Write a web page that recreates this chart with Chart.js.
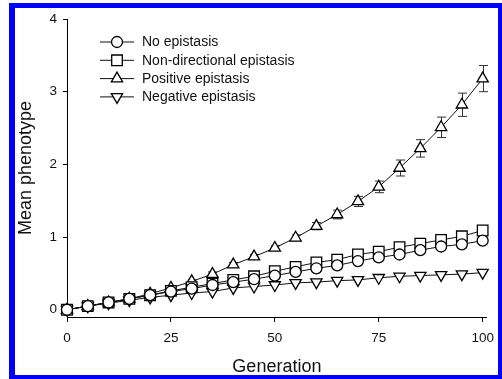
<!DOCTYPE html>
<html>
<head>
<meta charset="utf-8">
<script src="https://cdn.jsdelivr.net/npm/chart.js@4.4.1/dist/chart.umd.min.js"></script>
<style>
  html, body { margin: 0; padding: 0; background: #fff; }
  #wrap { position: relative; width: 502px; height: 379px; }
  #frame {
    position: absolute; left: 9px; top: 3px; width: 493px; height: 376px;
    box-sizing: border-box; border-style: solid; border-color: #0000ff;
    border-width: 5px 4px 4px 6px; pointer-events: none;
  }
</style>
</head>
<body>
<div id="wrap">
  <canvas id="chart" width="502" height="379"></canvas>
  <div id="frame"></div>
</div>
<script>
// Data
const generations = [0, 5, 10, 15, 20, 25, 30, 35, 40, 45, 50, 55, 60, 65, 70, 75, 80, 85, 90, 95, 100];
const noEpistasis = [0, 0.05, 0.10, 0.15, 0.20, 0.25, 0.29, 0.34, 0.38, 0.42, 0.47, 0.52, 0.57, 0.61, 0.67, 0.72, 0.76, 0.82, 0.87, 0.90, 0.95];
const nonDirectional = [0, 0.05, 0.10, 0.15, 0.20, 0.26, 0.31, 0.36, 0.41, 0.46, 0.53, 0.59, 0.65, 0.69, 0.76, 0.80, 0.86, 0.91, 0.96, 1.01, 1.09];
const positiveEpistasis = [0, 0.05, 0.10, 0.15, 0.22, 0.30, 0.39, 0.49, 0.62, 0.73, 0.85, 0.99, 1.15, 1.31, 1.49, 1.69, 1.95, 2.22, 2.51, 2.82, 3.18];
const positiveErr = [0, 0.01, 0.01, 0.01, 0.02, 0.02, 0.02, 0.03, 0.03, 0.03, 0.03, 0.04, 0.05, 0.06, 0.07, 0.08, 0.11, 0.12, 0.14, 0.16, 0.18];
const negativeEpistasis = [0, 0.05, 0.09, 0.13, 0.17, 0.20, 0.23, 0.25, 0.30, 0.32, 0.34, 0.37, 0.38, 0.40, 0.41, 0.44, 0.46, 0.47, 0.48, 0.49, 0.51];
const seriesNames = ['No epistasis', 'Non-directional epistasis', 'Positive epistasis', 'Negative epistasis'];
const xTicks = [0, 25, 50, 75, 100];
const yTicks = [0, 1, 2, 3, 4];

const FONT = '"Liberation Sans", Arial, sans-serif';

function points(values) {
    return generations.map((g, i) => ({ x: g, y: values[i] }));
}

function series(label, values, style, radius, rotation) {
    return {
        label: label,
        data: points(values),
        borderColor: '#111',
        borderWidth: 1,
        pointStyle: style,
        pointRadius: radius,
        pointRotation: rotation || 0,
        pointBackgroundColor: '#fff',
        pointBorderColor: '#000',
        pointBorderWidth: 1.3,
        tension: 0,
        clip: false
    };
}

// Error bars on the positive epistasis series
const errorBars = {
    id: 'errorBars',
    beforeDatasetsDraw(chart) {
        const { ctx, scales: { x, y } } = chart;
        ctx.save();
        ctx.strokeStyle = '#333';
        ctx.lineWidth = 1;
        positiveErr.forEach((e, i) => {
            if (!e) return;
            const px = Math.round(x.getPixelForValue(generations[i])) + 0.5;
            const top = y.getPixelForValue(positiveEpistasis[i] + e);
            const bot = y.getPixelForValue(positiveEpistasis[i] - e);
            ctx.beginPath();
            ctx.moveTo(px, top); ctx.lineTo(px, bot);
            ctx.moveTo(px - 4.5, top); ctx.lineTo(px + 4.5, top);
            ctx.moveTo(px - 4.5, bot); ctx.lineTo(px + 4.5, bot);
            ctx.stroke();
        });
        ctx.restore();
    }
};

// Legend with a line segment through each marker
const lineLegend = {
    id: 'lineLegend',
    afterDraw(chart) {
        const ctx = chart.ctx;
        ctx.save();
        chart.data.datasets.forEach((ds, i) => {
            const y = 42 + i * 18.3;
            ctx.strokeStyle = '#111';
            ctx.lineWidth = 1;
            ctx.beginPath();
            ctx.moveTo(100, y); ctx.lineTo(134, y);
            ctx.stroke();
            ctx.fillStyle = '#fff';
            ctx.strokeStyle = '#000';
            ctx.lineWidth = 1.3;
            Chart.helpers.drawPoint(ctx, {
                pointStyle: ds.pointStyle,
                radius: ds.pointRadius,
                rotation: ds.pointRotation,
                borderWidth: 1.3
            }, 117, y);
            ctx.fillStyle = '#111';
            ctx.font = '14px ' + FONT;
            ctx.textBaseline = 'middle';
            ctx.fillText(ds.label, 142, y + 0.5);
        });
        ctx.restore();
    }
};

new Chart(document.getElementById('chart'), {
    type: 'line',
    data: {
        datasets: [
            series(seriesNames[0], noEpistasis, 'circle', 5.5),
            series(seriesNames[1], nonDirectional, 'rect', 7.5),
            series(seriesNames[2], positiveEpistasis, 'triangle', 6.5),
            series(seriesNames[3], negativeEpistasis, 'triangle', 6.5, 180)
        ]
    },
    options: {
        responsive: false,
        animation: false,
        layout: { padding: { top: 19, right: 6, left: 0, bottom: 0 } },
        plugins: {
            legend: { display: false },
            tooltip: { enabled: false }
        },
        scales: {
            x: {
                type: 'linear',
                min: 0,
                max: 101,
                afterFit: s => { s.height = 62; },
                afterBuildTicks: s => { s.ticks = xTicks.map(v => ({ value: v })); },
                border: { display: true, color: '#000', width: 1 },
                grid: { drawOnChartArea: false, drawTicks: true, tickLength: 5, color: '#000' },
                ticks: { color: '#111', padding: 8, maxRotation: 0, font: { family: FONT, size: 13.5 } },
                title: {
                    display: true, text: 'Generation', color: '#111',
                    font: { family: FONT, size: 18 }, padding: { top: 0, bottom: 1 }
                }
            },
            y: {
                min: -0.1,
                max: 4,
                afterFit: s => { s.width = 67; },
                afterBuildTicks: s => { s.ticks = yTicks.map(v => ({ value: v })); },
                border: { display: true, color: '#000', width: 1 },
                grid: { drawOnChartArea: false, drawTicks: true, tickLength: 4, color: '#000' },
                ticks: { color: '#111', padding: 6, font: { family: FONT, size: 13.5 } },
                title: {
                    display: true, text: 'Mean phenotype', color: '#111',
                    font: { family: FONT, size: 18 }, padding: { top: 15, bottom: 0 }
                }
            }
        }
    },
    plugins: [errorBars, lineLegend]
});
</script>
</body>
</html>
